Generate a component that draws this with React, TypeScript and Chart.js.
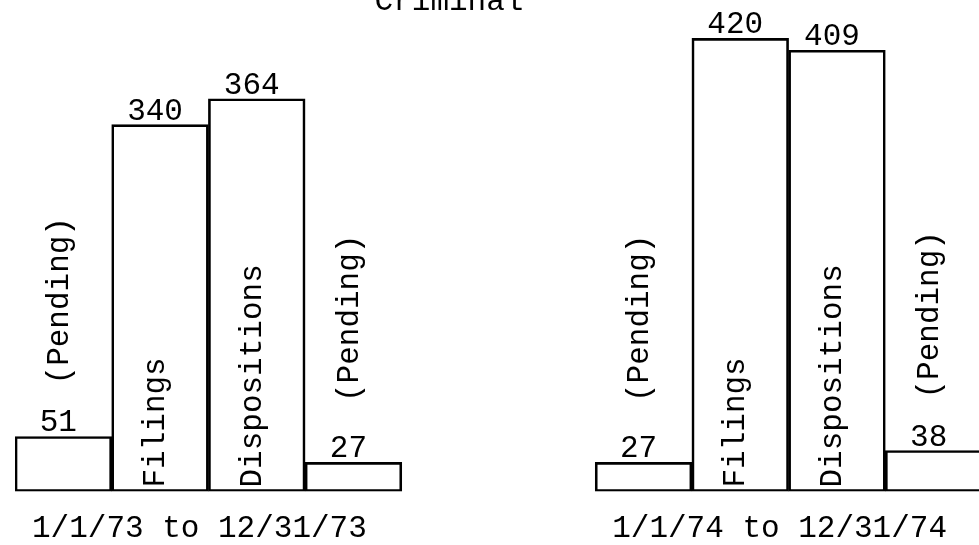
import React, { useEffect, useRef } from 'react';
import { Chart, registerables } from 'chart.js';

Chart.register(...registerables);

const title = 'Criminal';
const periods = ['1/1/73 to 12/31/73', '1/1/74 to 12/31/74'];
const barLabels = ['(Pending)', 'Filings', 'Dispositions', '(Pending)'];
const values1973 = [51, 340, 364, 27];
const values1974 = [27, 420, 409, 38];
const gapSlots = 2;

const FONT = '31px "Liberation Mono", "Courier New", monospace';

export default function App() {
  const ref = useRef<HTMLCanvasElement>(null);

  useEffect(() => {
    if (!ref.current) return;
    const groups = [values1973, values1974];
    const values: (number | null)[] = [];
    const labels: string[] = [];
    groups.forEach((g, gi) => {
      g.forEach((v, i) => {
        values.push(v);
        labels.push(barLabels[i]);
      });
      if (gi < groups.length - 1) {
        for (let k = 0; k < gapSlots; k++) {
          values.push(null);
          labels.push('');
        }
      }
    });

    const textPlugin = {
      id: 'typedText',
      afterDatasetsDraw(chart: any) {
        const ctx = chart.ctx as CanvasRenderingContext2D;
        const meta = chart.getDatasetMeta(0);
        const base = chart.scales.y.getPixelForValue(0);
        ctx.save();
        ctx.fillStyle = '#000';
        ctx.font = FONT;

        // title (cut off at the top, as in the scan)
        ctx.textAlign = 'center';
        ctx.textBaseline = 'alphabetic';
        ctx.fillText(title, 449, 10);

        values.forEach((v, i) => {
          if (v == null) return;
          const el = meta.data[i];
          const x = el.x;
          const y = el.y;
          // value label
          ctx.textAlign = 'center';
          ctx.textBaseline = 'alphabetic';
          ctx.fillText(String(v), x - 5, y - 5);
          // vertical category label
          const text = labels[i];
          const w = ctx.measureText(text).width;
          const inside = base - y > w + 20;
          const startY = inside ? base - 4 : Math.min(y - 52, 402);
          ctx.save();
          ctx.translate(x - 4, startY);
          ctx.rotate(-Math.PI / 2);
          ctx.textAlign = 'left';
          ctx.textBaseline = 'middle';
          ctx.fillText(text, 0, 0);
          ctx.restore();
        });

        // period labels under each group
        let idx = 0;
        groups.forEach((g, gi) => {
          const first = meta.data[idx];
          const last = meta.data[idx + g.length - 1];
          const cx = (first.x + last.x) / 2 - 9;
          ctx.textAlign = 'center';
          ctx.textBaseline = 'alphabetic';
          ctx.fillText(periods[gi], cx, 537);
          idx += g.length + gapSlots;
        });
        ctx.restore();
      },
    };

    const chart = new Chart(ref.current, {
      type: 'bar',
      data: {
        labels,
        datasets: [
          {
            data: values,
            backgroundColor: 'rgba(255,255,255,0)',
            borderColor: '#000',
            borderWidth: 2,
            borderSkipped: false,
            barPercentage: 1,
            categoryPercentage: 1,
          },
        ],
      },
      options: {
        responsive: false,
        animation: false,
        layout: { padding: { left: 15, right: 18, top: 6, bottom: 53.5 } },
        scales: {
          x: { display: false },
          y: { display: false, min: 0, max: 450 },
        },
        plugins: {
          legend: { display: false },
          tooltip: { enabled: false },
          title: { display: false },
        },
      },
      plugins: [textPlugin],
    });
    return () => chart.destroy();
  }, []);

  return (
    <div
      style={{
        position: 'absolute',
        left: 0,
        top: 0,
        width: 979,
        height: 545,
        overflow: 'hidden',
        background: '#fff',
      }}
    >
      <canvas ref={ref} width={1000} height={545} style={{ display: 'block' }} />
    </div>
  );
}
